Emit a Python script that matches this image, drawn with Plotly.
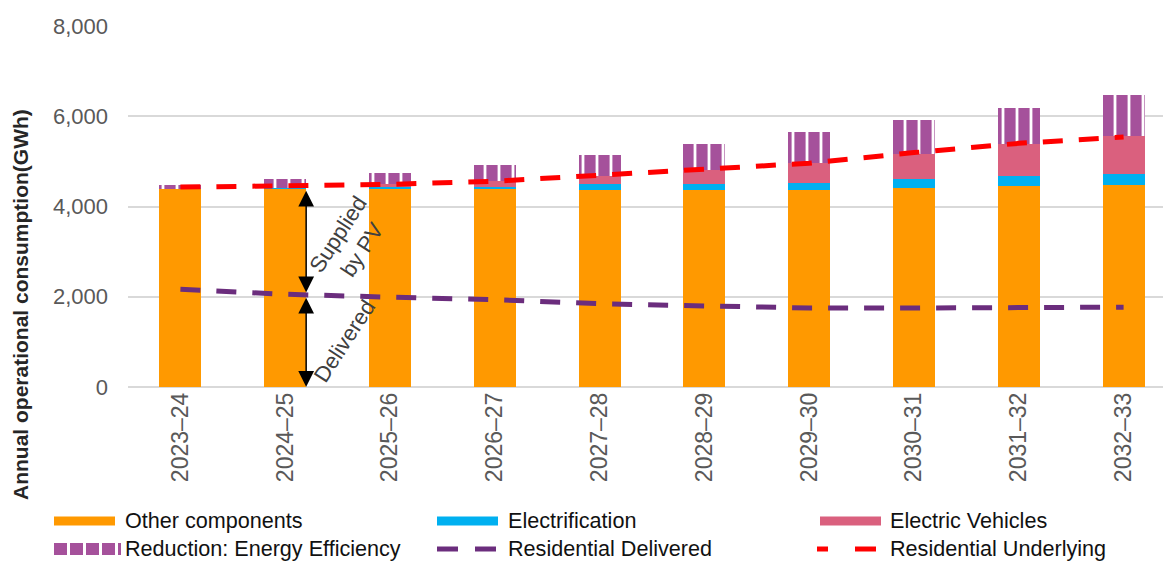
import plotly.graph_objects as go

categories = ["2023–24", "2024–25", "2025–26", "2026–27", "2027–28",
              "2028–29", "2029–30", "2030–31", "2031–32", "2032–33"]
other_components = [4385, 4400, 4390, 4385, 4375, 4370, 4370, 4400, 4455, 4480]
electrification = [0, 10, 50, 45, 125, 130, 160, 215, 215, 235]
electric_vehicles = [0, 10, 50, 125, 170, 310, 445, 540, 710, 850]
energy_efficiency = [100, 180, 245, 370, 475, 575, 675, 770, 810, 900]
residential_delivered = [2165, 2055, 1990, 1935, 1845, 1795, 1750, 1750, 1750, 1770]
residential_underlying = [4430, 4455, 4490, 4560, 4685, 4810, 4960, 5195, 5400, 5540]
y_ticks = [0, 2000, 4000, 6000, 8000]

C_ORANGE = "#FF9900"
C_BLUE = "#00B0F0"
C_PINK = "#DA607E"
C_PURPLE = "#A5519B"
C_DELIV = "#6B2D7D"
C_RED = "#FF0000"
FONT = "Liberation Sans, Arial, sans-serif"

W, H = 1163, 561
L, T, B, R = 128, 26, 174, 0
PW, PH = W - L - R, H - T - B

def px(x):
    return (x - L) / PW

def py(y):
    return (H - B - y) / PH

fig = go.Figure()
bw = 0.4
fig.add_trace(go.Bar(x=categories, y=other_components, name="Other components",
                     marker=dict(color=C_ORANGE, line=dict(width=0)), width=bw))
fig.add_trace(go.Bar(x=categories, y=electrification, name="Electrification",
                     marker=dict(color=C_BLUE, line=dict(width=0)), width=bw))
fig.add_trace(go.Bar(x=categories, y=electric_vehicles, name="Electric Vehicles",
                     marker=dict(color=C_PINK, line=dict(width=0)), width=bw))
fig.add_trace(go.Bar(x=categories, y=energy_efficiency, name="Reduction: Energy Efficiency",
                     marker=dict(color=C_PURPLE, line=dict(width=0),
                                 pattern=dict(shape="|", fgcolor="white", bgcolor=C_PURPLE,
                                              fillmode="replace", size=14, solidity=0.2)),
                     width=bw))
fig.add_trace(go.Scatter(x=categories, y=residential_delivered, name="Residential Delivered",
                         mode="lines", line=dict(color=C_DELIV, width=5, dash="20px,16px")))
fig.add_trace(go.Scatter(x=categories, y=residential_underlying, name="Residential Underlying",
                         mode="lines", line=dict(color=C_RED, width=5, dash="20px,16px")))

fig.update_layout(
    width=W, height=H, barmode="stack", showlegend=False,
    margin=dict(l=L, r=R, t=T, b=B),
    plot_bgcolor="white", paper_bgcolor="white",
    font=dict(family=FONT),
    xaxis=dict(type="category", range=[-0.5, -0.5 + PW / 104.8], showgrid=False,
               tickangle=-90, tickfont=dict(size=23, color="#595959"),
               showline=False, ticks=""),
    yaxis=dict(range=[0, 8000], tickvals=y_ticks, tickformat=",d",
               tickfont=dict(size=22, color="#595959"),
               gridcolor="#D9D9D9", gridwidth=1.5, zeroline=True,
               zerolinecolor="#D9D9D9", zerolinewidth=1.5, showline=False,
               ticks="", ticklabelstandoff=19),
)

annotations = []
# y axis title
annotations.append(dict(text="<b>Annual operational consumption(GWh)</b>", xref="paper", yref="paper",
                        x=px(20), y=py(305), xanchor="center", yanchor="middle", textangle=-90,
                        showarrow=False, font=dict(size=21, color="#262626", family=FONT)))
# double arrows
for (y0, y1) in [(4380, 2100), (2010, 5)]:
    annotations.append(dict(x=1.2, y=y1, ax=1.2, ay=y0, xref="x", yref="y", axref="x", ayref="y",
                            text="", showarrow=True, arrowside="end+start", arrowhead=2,
                            startarrowhead=2, arrowsize=2.1, startarrowsize=2.1,
                            arrowwidth=1.5, arrowcolor="#000000"))
annotations.append(dict(x=1.62, y=3220, xref="x", yref="y", text="Supplied<br>by PV",
                        showarrow=False, textangle=-57, font=dict(size=22, color="#404040")))
annotations.append(dict(x=1.57, y=1025, xref="x", yref="y", text="Delivered",
                        showarrow=False, textangle=-57, font=dict(size=22, color="#404040")))

# legend (drawn manually)
shapes = []
legend_items = [
    ("Other components", "bar", C_ORANGE, 54, 123, 521, None),
    ("Electrification", "bar", C_BLUE, 437, 506, 521, None),
    ("Electric Vehicles", "bar", C_PINK, 820, 888, 521, None),
    ("Reduction: Energy Efficiency", "pattern", C_PURPLE, 54, 123, 549, None),
    ("Residential Delivered", "dash", C_DELIV, 437, 506, 549, [(437, 458), (475, 496)]),
    ("Residential Underlying", "dash", C_RED, 820, 888, 549, [(817, 828), (855, 876)]),
]
for name, kind, col, sx, tx, cy, segs in legend_items:
    if kind == "bar":
        shapes.append(dict(type="rect", xref="paper", yref="paper", x0=px(sx), x1=px(sx + 61),
                           y0=py(cy - 4.5), y1=py(cy + 4.5), fillcolor=col, line=dict(width=0)))
    elif kind == "pattern":
        for i in range(5):
            x0 = sx + i * 16
            w = 13 if i < 4 else 3
            shapes.append(dict(type="rect", xref="paper", yref="paper", x0=px(x0), x1=px(x0 + w),
                               y0=py(cy - 6), y1=py(cy + 6), fillcolor=col, line=dict(width=0)))
    else:
        for (a, b) in segs:
            shapes.append(dict(type="line", xref="paper", yref="paper", x0=px(a), x1=px(b),
                               y0=py(cy), y1=py(cy), line=dict(color=col, width=5)))
    annotations.append(dict(text=name, xref="paper", yref="paper", x=px(tx), y=py(cy - 1),
                            xanchor="left", yanchor="middle", showarrow=False,
                            font=dict(size=21.6, color="#111111", family=FONT)))

fig.update_layout(annotations=annotations, shapes=shapes)
fig.write_html("out.html")
